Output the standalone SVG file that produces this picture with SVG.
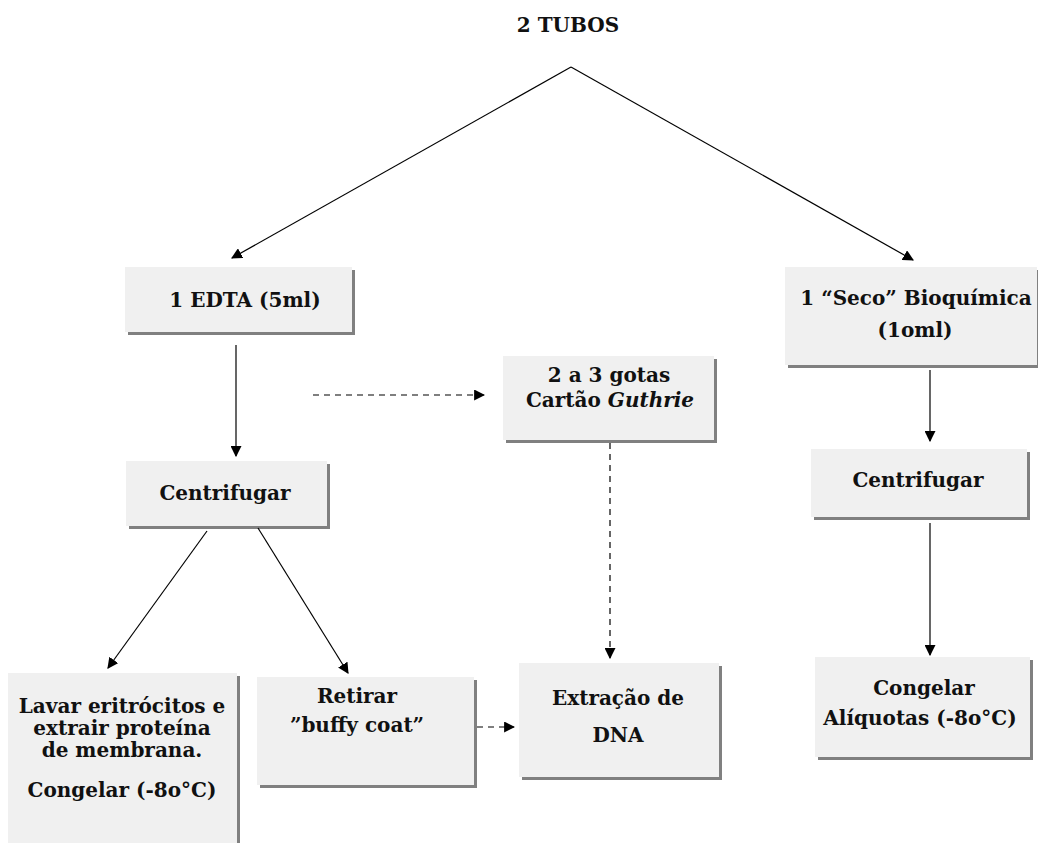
<svg xmlns="http://www.w3.org/2000/svg" width="1038" height="843" viewBox="0 0 1038 843">
<style>
.box{fill:#f0f0f0}
.sh{fill:#808080}
.t{font-family:"DejaVu Serif","Liberation Serif",serif;font-weight:bold;font-size:20px;fill:#111;text-anchor:middle}
.c{stroke:#000;stroke-width:1.2;fill:none}
.d{stroke:#000;stroke-width:1.2;fill:none;stroke-dasharray:6,5}
</style>
<defs>
<marker id="ah" viewBox="0 0 10 10" refX="9" refY="5" markerWidth="11" markerHeight="11" markerUnits="userSpaceOnUse" orient="auto">
<path d="M0,0 L10,5 L0,10 z" fill="#000"/>
</marker>
</defs>
<rect width="1038" height="843" fill="#fff"/>
<g id="title"><text class="t" x="568" y="32">2 TUBOS</text></g>
<g id="edta">
<rect class="sh" x="128" y="270" width="227" height="65"/>
<rect class="box" x="125" y="267" width="227" height="65"/>
<text class="t" x="245" y="307">1 EDTA (5ml)</text>
</g>
<g id="seco">
<rect class="sh" x="788" y="270" width="252" height="98"/>
<rect class="box" x="785" y="267" width="252" height="98"/>
<text class="t" x="916" y="305">1 “Seco” Bioquímica</text>
<text class="t" x="915" y="337">(1oml)</text>
</g>
<g id="guthrie">
<rect class="sh" x="506" y="359" width="211" height="84"/>
<rect class="box" x="503" y="356" width="211" height="84"/>
<text class="t" x="609" y="382">2 a 3 gotas</text>
<text class="t" x="610" y="407">Cartão <tspan font-style="italic">Guthrie</tspan></text>
</g>
<g id="centrifugar1">
<rect class="sh" x="129" y="464" width="201" height="65"/>
<rect class="box" x="126" y="461" width="201" height="65"/>
<text class="t" x="225" y="500">Centrifugar</text>
</g>
<g id="centrifugar2">
<rect class="sh" x="814" y="452" width="216" height="68"/>
<rect class="box" x="811" y="449" width="216" height="68"/>
<text class="t" x="918" y="487">Centrifugar</text>
</g>
<g id="lavar">
<rect class="sh" x="11" y="676" width="229" height="170"/>
<rect class="box" x="8" y="673" width="229" height="170"/>
<text class="t" x="122" y="713">Lavar eritrócitos e</text>
<text class="t" x="122" y="735">extrair proteína</text>
<text class="t" x="122" y="757">de membrana.</text>
<text class="t" x="122" y="797">Congelar (-8o°C)</text>
</g>
<g id="retirar">
<rect class="sh" x="260" y="680" width="217" height="108"/>
<rect class="box" x="257" y="677" width="217" height="108"/>
<text class="t" x="357" y="703">Retirar</text>
<text class="t" x="357" y="732">”buffy coat”</text>
</g>
<g id="extracao">
<rect class="sh" x="522" y="666" width="200" height="114"/>
<rect class="box" x="519" y="663" width="200" height="114"/>
<text class="t" x="618" y="705">Extração de</text>
<text class="t" x="618" y="742">DNA</text>
</g>
<g id="congelar">
<rect class="sh" x="818" y="660" width="215" height="100"/>
<rect class="box" x="815" y="657" width="215" height="100"/>
<text class="t" x="924" y="695">Congelar</text>
<text class="t" x="920" y="725">Alíquotas (-8o°C)</text>
</g>
<g id="connectors">
<line class="c" x1="571" y1="67" x2="232" y2="258" marker-end="url(#ah)"/>
<line class="c" x1="571" y1="67" x2="913" y2="260" marker-end="url(#ah)"/>
<line class="c" x1="236" y1="345" x2="236" y2="456" marker-end="url(#ah)"/>
<line class="d" x1="313" y1="395" x2="484" y2="395" marker-end="url(#ah)"/>
<line class="d" x1="610" y1="443" x2="610" y2="658" marker-end="url(#ah)"/>
<line class="c" x1="207" y1="531" x2="108" y2="668" marker-end="url(#ah)"/>
<line class="c" x1="258" y1="528" x2="348" y2="673" marker-end="url(#ah)"/>
<line class="d" x1="477" y1="727" x2="514" y2="727" marker-end="url(#ah)"/>
<line class="c" x1="930" y1="370" x2="930" y2="441" marker-end="url(#ah)"/>
<line class="c" x1="930" y1="523" x2="930" y2="655" marker-end="url(#ah)"/>
</g>
</svg>
